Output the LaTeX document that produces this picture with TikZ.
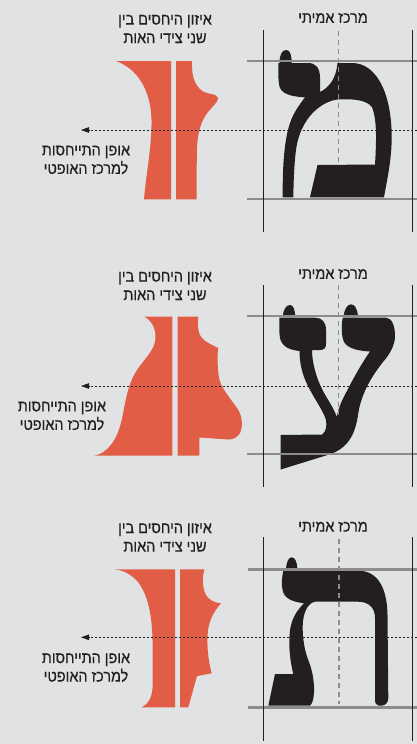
\documentclass[tikz,border=0pt]{standalone}
\usepackage{fontspec}
\setmainfont{Liberation Sans}
\newfontfamily\hebfont[Script=Hebrew,FakeBold=0.5,FakeStretch=0.9]{Liberation Sans}
\TeXXeTstate=1
\usetikzlibrary{arrows.meta}
\definecolor{bg}{RGB}{224,226,227}
\definecolor{redf}{RGB}{226,93,70}
\definecolor{ink}{RGB}{35,31,32}
\definecolor{guide}{RGB}{140,140,140}
\tikzset{
 lbl/.style={font=\hebfont\fontsize{16}{18.5}\selectfont, text=ink, align=center, inner sep=0pt},
 framestroke/.style={draw=ink, line width=0.9pt},
 guideline/.style={draw=guide, line width=2.5pt},
 centerdash/.style={draw=guide, line width=1.2pt, dash pattern=on 5pt off 4pt},
 optarrow/.style={draw=ink, line width=0.8pt, dash pattern=on 2pt off 2pt, -{Triangle[length=8pt,width=5.5pt]}},
 glyph/.style={fill=ink},
 half/.style={fill=redf},
}
\begin{document}
\begin{tikzpicture}[x=1pt,y=-1pt]
\useasboundingbox[fill=bg] (0,0) rectangle (417,744);

% ================= PANEL 1 (mem) =================
\fill[half] (116,61) -- (171,61) -- (171,199.3) -- (144,199.3)
  .. controls (146,175) and (152,145) .. (151.5,120)
  .. controls (151,98) and (143,71) .. (116,61) -- cycle;
\fill[half] (176,61) -- (192,61)
  .. controls (191.5,72) and (193,85) .. (203,91.5)
  .. controls (210,95) and (216,93) .. (218,98)
  .. controls (218.5,101) and (214,105) .. (208,112)
  .. controls (200,122) and (197,135) .. (196.8,155)
  -- (196.5,199.3) -- (176,199.3) -- cycle;
\fill[glyph] (279.5,63) .. controls (279.5,55) and (282,50) .. (286,50)
  .. controls (290,50) and (291.5,54) .. (291.7,63) -- cycle;
\fill[glyph] (278.3,63) -- (308,63)
  .. controls (316,63) and (320,68) .. (320,78) -- (320,92)
  .. controls (328,88) and (336,80) .. (337.5,63) -- (352,63)
  .. controls (375,63) and (391,90) .. (391.7,135)
  .. controls (392,160) and (386,185) .. (384,197.3)
  -- (310,197.3) -- (317.5,165) -- (375,164.5)
  .. controls (376.5,140) and (377,120) .. (372,107)
  .. controls (366,100) and (355,99) .. (340,99.3)
  .. controls (322,100) and (300,118) .. (296,150)
  .. controls (294,165) and (293.5,185) .. (293.3,197.3)
  -- (282.7,197.3)
  .. controls (282.5,165) and (284,130) .. (295,112)
  .. controls (299,105) and (303,100) .. (305,97.5)
  .. controls (296,96.5) and (284,96) .. (280,88)
  .. controls (278,83) and (278.3,72) .. (278.3,63) -- cycle;
\coordinate (g1a) at (247,61);  \coordinate (g1b) at (417,61);
\coordinate (g1c) at (247,199); \coordinate (g1d) at (417,199);
\draw[guideline] (g1a) -- (g1b);
\draw[guideline] (g1c) -- (g1d);
\coordinate (v1a) at (263.3,30); \coordinate (v1b) at (263.3,232);
\coordinate (v1c) at (412.7,30); \coordinate (v1d) at (412.7,232);
\draw[framestroke] (v1a) -- (v1b);
\draw[framestroke] (v1c) -- (v1d);
\coordinate (c1a) at (338.3,31); \coordinate (c1b) at (338.3,165);
\draw[centerdash] (c1a) -- (c1b);
\coordinate (r1) at (417,130); \coordinate (l1) at (81,130);
\draw[optarrow] (r1) -- (l1);
\node[lbl] (ta1) at (165,29) {\beginR איזון היחסים בין\endR\\\beginR שני צידי האות\endR};
\node[lbl] (tb1) at (333,18) {\beginR מרכז אמיתי\endR};
\node[lbl] (tc1) at (86,160) {\beginR אופן התייחסות\endR\\\beginR למרכז האופטי\endR};

% ================= PANEL 2 (ayin) =================
\fill[half] (144.3,316.7) -- (172.3,316.7) -- (172.3,455.7) -- (94.3,455.7)
  .. controls (108,453) and (117,440) .. (121.7,420)
  .. controls (125,405) and (127,385) .. (137,370)
  .. controls (145,358) and (155,350) .. (155.5,338)
  .. controls (156,328) and (151,320) .. (144.3,316.7) -- cycle;
\fill[half] (177.7,316.7) -- (198.3,316.7)
  .. controls (197.5,323) and (197.5,332) .. (201,337)
  .. controls (205,342) and (212,345) .. (218.3,348)
  .. controls (217,355) and (217.5,368) .. (219,378)
  .. controls (221,388) and (230,398) .. (237,408)
  .. controls (242,415) and (243.5,425) .. (240,433)
  .. controls (237,438) and (233,439.5) .. (228,439.5)
  -- (199.5,437.5) -- (199.3,455.7) -- (177.7,455.7) -- cycle;
\fill[glyph] (282.7,317) .. controls (283,310) and (286,305) .. (290,305)
  .. controls (293.5,305) and (295,310) .. (295.3,317) -- cycle;
\fill[glyph] (343.5,317) .. controls (344,310) and (347,304.3) .. (351,304.3)
  .. controls (355,304.3) and (357.5,309) .. (358,317) -- cycle;
\fill[glyph] (279.3,317.7) -- (315,317.7)
  .. controls (322,317.7) and (326,322) .. (326,330) -- (326,344)
  .. controls (326,348) and (324,350) .. (320,350) -- (312,350)
  .. controls (312,362) and (316,377) .. (322,389)
  .. controls (327,399) and (334,408) .. (336.7,417)
  .. controls (339,406) and (343,398) .. (348,389)
  .. controls (355,375) and (364,360) .. (370,351.5)
  .. controls (360,351) and (348,349) .. (344,342)
  .. controls (341,335) and (341.5,325) .. (342.7,317.7)
  -- (386,317.7)
  .. controls (392,318) and (395,326) .. (395,336)
  .. controls (395,345) and (390,354) .. (383,362)
  .. controls (372,376) and (362,392) .. (358.5,412)
  .. controls (356,430) and (351,446) .. (331.7,453.7)
  -- (280.7,469.5) -- (280.7,435) -- (322,434.5)
  .. controls (326,432) and (327,426) .. (326,420)
  .. controls (323,410) and (313,397) .. (307,384)
  .. controls (302,374) and (299.5,362) .. (299.5,351)
  .. controls (290,350) and (282,347) .. (280,338)
  .. controls (279,332) and (279.3,325) .. (279.3,317.7) -- cycle;
\coordinate (g2a) at (247,316);  \coordinate (g2b) at (417,316);
\coordinate (g2c) at (247,454);  \coordinate (g2d) at (417,454);
\draw[guideline] (g2a) -- (g2b);
\draw[guideline] (g2c) -- (g2d);
\coordinate (v2a) at (263.3,285); \coordinate (v2b) at (263.3,486.7);
\coordinate (v2c) at (412.7,285); \coordinate (v2d) at (412.7,486.7);
\draw[framestroke] (v2a) -- (v2b);
\draw[framestroke] (v2c) -- (v2d);
\coordinate (c2a) at (338.3,285); \coordinate (c2b) at (338.3,415);
\draw[centerdash] (c2a) -- (c2b);
\coordinate (r2) at (417,386); \coordinate (l2) at (81,386);
\draw[optarrow] (r2) -- (l2);
\node[lbl] (ta2) at (165,286) {\beginR איזון היחסים בין\endR\\\beginR שני צידי האות\endR};
\node[lbl] (tb2) at (333,274) {\beginR מרכז אמיתי\endR};
\node[lbl] (tc2) at (62,416) {\beginR אופן התייחסות\endR\\\beginR למרכז האופטי\endR};

% ================= PANEL 3 (tav) =================
\fill[half] (114,569.3) -- (175,569.3) -- (175,707.3) -- (141.7,707.3)
  .. controls (148,704) and (152.5,698) .. (152.7,685) -- (152.5,640)
  .. controls (152,615) and (148,595) .. (138,582)
  .. controls (131,574) and (123,570) .. (114,569.3) -- cycle;
\fill[half] (180,569.3) -- (204.5,569.3)
  .. controls (202.5,575) and (202,585) .. (205,593)
  .. controls (208,600) and (215,603) .. (221,603.3)
  .. controls (215,610) and (210,618) .. (208,630)
  .. controls (206.5,645) and (208,660) .. (211.7,673.3)
  -- (197,676) -- (188.3,707.3) -- (180,707.3) -- cycle;
\fill[glyph] (286,569.5) .. controls (286.3,562) and (288.5,557.3) .. (291.7,557.3)
  .. controls (295,557.3) and (297,562) .. (297.3,568) -- cycle;
\fill[glyph] (283.3,570.7) -- (358,570.7)
  .. controls (376,570.7) and (387,585) .. (387.5,615)
  -- (388.3,698)
  .. controls (388.3,703) and (385,705.7) .. (381,705.7) -- (379,705.7)
  .. controls (376,705.7) and (375,703) .. (375,699) -- (375,618)
  .. controls (375,608) and (369,601.7) .. (358,601.7) -- (315,601.7)
  .. controls (308,603) and (303,612) .. (302.7,626)
  .. controls (302.5,640) and (305,652) .. (309,662)
  .. controls (313,672) and (314.5,685) .. (314,693)
  .. controls (313.5,700) and (312,704) .. (310,705.7)
  -- (268.3,705.7) -- (275,674) -- (293.3,674)
  .. controls (291,665) and (289,652) .. (289.3,640)
  .. controls (289.5,625) and (293,614) .. (304,603.3)
  .. controls (295,602) and (286,600) .. (283,592)
  .. controls (281,585) and (282,577) .. (283.3,570.7) -- cycle;
\coordinate (g3a) at (248,569.3);  \coordinate (g3b) at (417,569.3);
\coordinate (g3c) at (248,707.3);  \coordinate (g3d) at (417,707.3);
\draw[guideline] (g3a) -- (g3b);
\draw[guideline] (g3c) -- (g3d);
\coordinate (v3a) at (263.3,537.3); \coordinate (v3b) at (263.3,740.7);
\coordinate (v3c) at (412.7,537.3); \coordinate (v3d) at (412.7,740.7);
\draw[framestroke] (v3a) -- (v3b);
\draw[framestroke] (v3c) -- (v3d);
\coordinate (c3a) at (339,539); \coordinate (c3b) at (339,704);
\draw[centerdash] (c3a) -- (c3b);
\coordinate (r3) at (417,637.3); \coordinate (l3) at (81,637.3);
\draw[optarrow] (r3) -- (l3);
\node[lbl] (ta3) at (165,537.5) {\beginR איזון היחסים בין\endR\\\beginR שני צידי האות\endR};
\node[lbl] (tb3) at (333,526.7) {\beginR מרכז אמיתי\endR};
\node[lbl] (tc3) at (86,667.7) {\beginR אופן התייחסות\endR\\\beginR למרכז האופטי\endR};
\end{tikzpicture}
\end{document}
